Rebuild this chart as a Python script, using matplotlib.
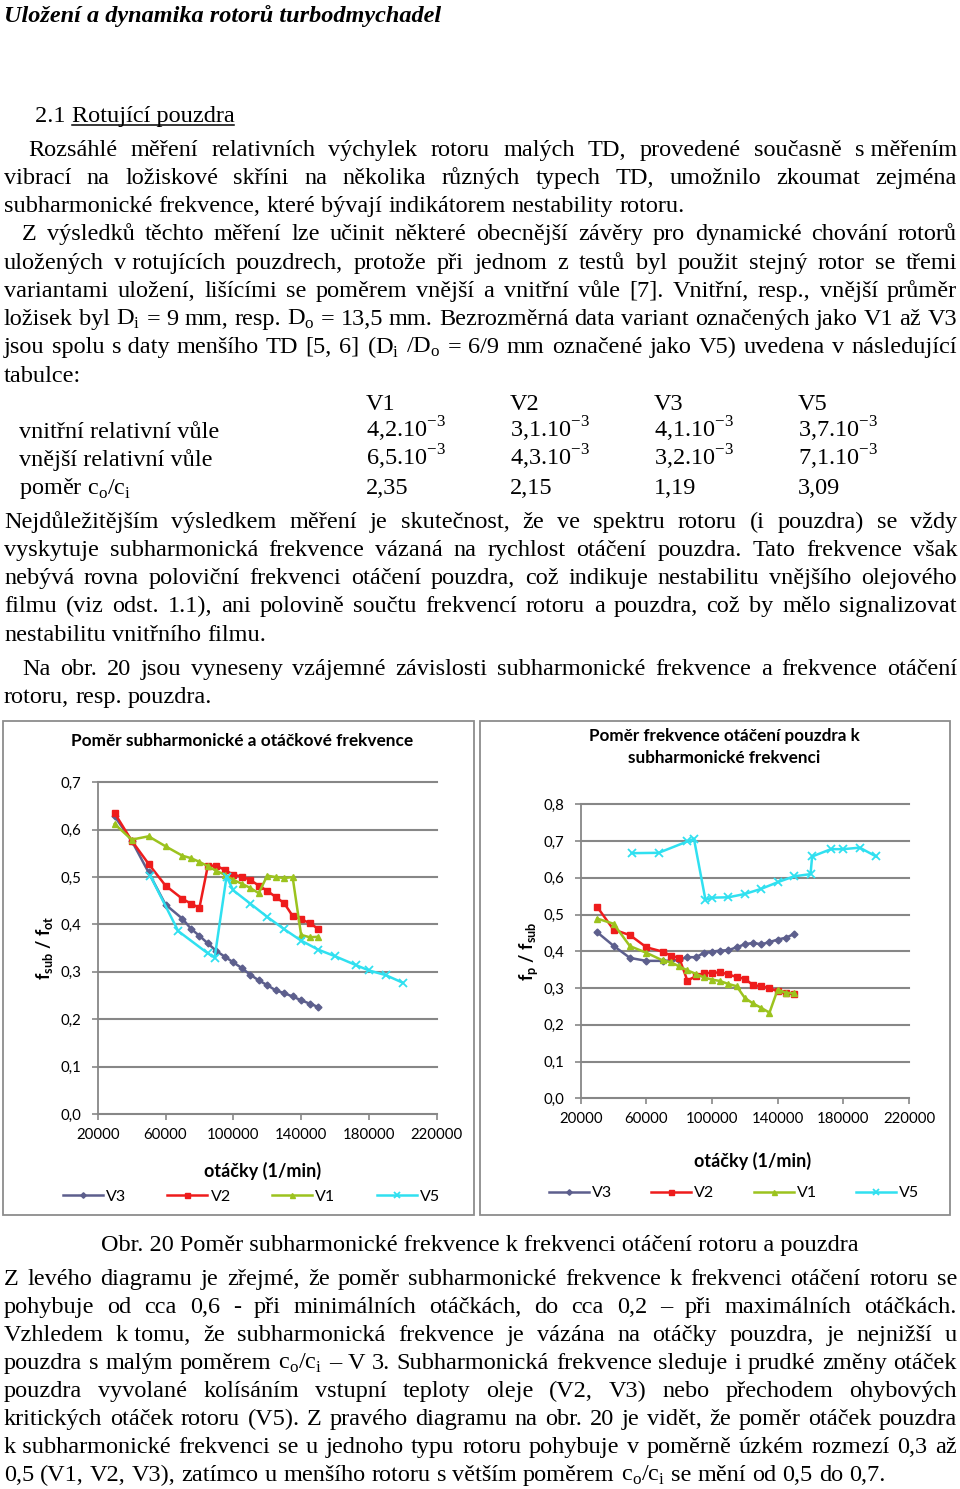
import numpy as np
import matplotlib
matplotlib.use('Agg')
import matplotlib.pyplot as plt
from matplotlib.patches import Rectangle
from matplotlib.lines import Line2D
from matplotlib.ticker import FuncFormatter

# ---- data ----
otacky = [30000, 40000, 50000, 60000, 70000, 75000, 80000, 85000, 90000, 95000, 100000,
          105000, 110000, 115000, 120000, 125000, 130000, 135000, 140000, 145000, 150000]
otacky_v5_l = [51000, 67500, 85000, 89000, 96000, 100000, 110000, 120000, 130000, 140000,
               150000, 160000, 172500, 180000, 190000, 200000]
otacky_v5_p = [51000, 67500, 85000, 89000, 96000, 100000, 110000, 120000, 130000, 140000,
               150000, 160000, 161000, 172500, 180000, 190000, 200000]

# levy diagram: f_sub / f_ot
l_v3 = [0.628, 0.577, 0.510, 0.442, 0.412, 0.391, 0.376, 0.360, 0.344, 0.332, 0.320,
        0.308, 0.294, 0.282, 0.272, 0.261, 0.255, 0.248, 0.240, 0.233, 0.226]
l_v2 = [0.635, 0.577, 0.528, 0.482, 0.454, 0.444, 0.435, 0.524, 0.524, 0.515, 0.505,
        0.501, 0.494, 0.482, 0.471, 0.458, 0.445, 0.418, 0.411, 0.403, 0.391]
l_v1 = [0.612, 0.579, 0.586, 0.565, 0.545, 0.540, 0.532, 0.523, 0.513, 0.505, 0.494,
        0.486, 0.477, 0.466, 0.503, 0.500, 0.498, 0.500, 0.378, 0.373, 0.374]
l_v5 = [0.503, 0.386, 0.339, 0.330, 0.501, 0.472, 0.444, 0.416, 0.390, 0.366, 0.347,
        0.333, 0.314, 0.303, 0.293, 0.277]

# pravy diagram: f_p / f_sub
p_v3 = [0.452, 0.415, 0.382, 0.374, 0.374, 0.375, 0.377, 0.384, 0.384, 0.395, 0.399,
        0.402, 0.403, 0.411, 0.419, 0.423, 0.419, 0.425, 0.432, 0.437, 0.447]
p_v2 = [0.521, 0.459, 0.444, 0.411, 0.399, 0.388, 0.382, 0.320, 0.332, 0.341, 0.341,
        0.343, 0.337, 0.330, 0.325, 0.308, 0.305, 0.300, 0.291, 0.286, 0.284]
p_v1 = [0.489, 0.475, 0.414, 0.396, 0.375, 0.370, 0.359, 0.348, 0.339, 0.329, 0.323,
        0.319, 0.311, 0.305, 0.273, 0.258, 0.246, 0.233, 0.296, 0.287, 0.286]
p_v5 = [0.667, 0.668, 0.699, 0.706, 0.540, 0.546, 0.547, 0.556, 0.570, 0.588, 0.604,
        0.610, 0.658, 0.678, 0.678, 0.682, 0.658]

xticks = [20000, 60000, 100000, 140000, 180000, 220000]

# table
tab_sloupce = ['V1', 'V2', 'V3', 'V5']
tab_vnitrni = ['4,2.10$^{\\mathregular{-3}}$', '3,1.10$^{\\mathregular{-3}}$',
               '4,1.10$^{\\mathregular{-3}}$', '3,7.10$^{\\mathregular{-3}}$']
tab_vnejsi = ['6,5.10$^{\\mathregular{-3}}$', '4,3.10$^{\\mathregular{-3}}$',
              '3,2.10$^{\\mathregular{-3}}$', '7,1.10$^{\\mathregular{-3}}$']
tab_pomer = ['2,35', '2,15', '1,19', '3,09']

Di = 'D$_{\\mathregular{i}}$'
Do = 'D$_{\\mathregular{o}}$'
coci = 'c$_{\\mathregular{o}}$/c$_{\\mathregular{i}}$'

W, H = 960, 1489
fig = plt.figure(figsize=(W / 100, H / 100), dpi=100)
fig.patch.set_facecolor('white')
renderer = fig.canvas.get_renderer()

SERIF = 'Liberation Serif'
SANS = 'Lato'
FS = 17.5
GRID = '#878787'


def fx(x):
    return x / W


def fy(y):
    return 1 - y / H


def radek(y, tokens, x0=4, x1=957, just=True, size=FS):
    # one line of text, placed word by word so it can be justified
    while True:
        ts = [fig.text(fx(x0), fy(y), t, fontsize=size, family=SERIF, va='baseline')
              for t in tokens]
        ws = [t.get_window_extent(renderer).width for t in ts]
        space = 0.25 * size * 100 / 72
        if not just:
            gap = space
            break
        gap = (x1 - x0 - sum(ws)) / (len(ws) - 1)
        if gap >= 0.5 * space:
            break
        for t in ts:
            t.remove()
        size -= 0.25
    x = x0
    for t, w in zip(ts, ws):
        t.set_x(fx(x))
        x += w + gap
    return ts


def slova(s):
    # '~' keeps short prepositions glued to the next word
    return [w.replace('~', ' ') for w in s.split(' ')]


# ---- header ----
fig.text(fx(4), fy(22), 'Uložení a dynamika rotorů turbodmychadel', fontsize=FS,
         family=SERIF, fontweight='bold', fontstyle='italic', va='baseline')

t1 = fig.text(fx(35), fy(122), '2.1 ', fontsize=FS, family=SERIF, va='baseline')
w1 = t1.get_window_extent(renderer).width
t2 = fig.text(fx(35 + w1), fy(122), 'Rotující pouzdra', fontsize=FS, family=SERIF, va='baseline')
bb = t2.get_window_extent(renderer)
fig.add_artist(Line2D([fx(bb.x0), fx(bb.x1)], [fy(125), fy(125)], color='black', lw=1.1))

# ---- text above the figure ----
radek(156, slova('Rozsáhlé měření relativních výchylek rotoru malých TD, provedené současně s~měřením'), x0=28)
radek(184, slova('vibrací na ložiskové skříni na několika různých typech TD, umožnilo zkoumat zejména'))
radek(212, slova('subharmonické frekvence, které bývají indikátorem nestability rotoru.'), just=False)
radek(240, slova('Z výsledků těchto měření lze učinit některé obecnější závěry pro dynamické chování rotorů'), x0=22)
radek(269, slova('uložených v~rotujících pouzdrech, protože při jednom z testů byl použit stejný rotor se třemi'))
radek(297, slova('variantami uložení, lišícími se poměrem vnější a vnitřní vůle [7]. Vnitřní, resp., vnější průměr'))
radek(325, slova('ložisek byl ' + Di + ' = 9 mm, resp. ' + Do + ' = 13,5 mm. Bezrozměrná data variant označených jako V1 až V3'))
radek(353, slova('jsou spolu s~daty menšího TD [5, 6] (' + Di + ' /' + Do + ' = 6/9 mm označené jako V5) uvedena v následující'))
radek(382, ['tabulce:'], just=False)

# table
sl_x = [366, 510, 654, 798]
for x, s in zip(sl_x, tab_sloupce):
    fig.text(fx(x), fy(410), s, fontsize=FS, family=SERIF, va='baseline')
radky = [('vnitřní relativní vůle', tab_vnitrni, 438),
         ('vnější relativní vůle', tab_vnejsi, 466),
         ('poměr ' + coci, tab_pomer, 494)]
for nazev, hodnoty, y in radky:
    fig.text(fx(19), fy(y), nazev, fontsize=FS, family=SERIF, va='baseline')
    for x, s in zip(sl_x, hodnoty):
        fig.text(fx(x), fy(y), s, fontsize=FS, family=SERIF, va='baseline')

radek(528, slova('Nejdůležitějším výsledkem měření je skutečnost, že ve spektru rotoru (i pouzdra) se vždy'))
radek(556, slova('vyskytuje subharmonická frekvence vázaná na rychlost otáčení pouzdra. Tato frekvence však'))
radek(584, slova('nebývá rovna poloviční frekvenci otáčení pouzdra, což indikuje nestabilitu vnějšího olejového'))
radek(612, slova('filmu (viz odst. 1.1), ani polovině součtu frekvencí rotoru a pouzdra, což by mělo signalizovat'))
radek(641, slova('nestabilitu vnitřního filmu.'), just=False)
radek(675, slova('Na obr. 20 jsou vyneseny vzájemné závislosti subharmonické frekvence a frekvence otáčení'), x0=22)
radek(703, slova('rotoru, resp. pouzdra.'), just=False)


# ---- the two diagrams ----
def osy(rect, ymax):
    x0, y0, x1, y1 = rect
    ax = fig.add_axes([fx(x0), fy(y1), (x1 - x0) / W, (y1 - y0) / H])
    ax.set_xlim(20000, 220000)
    ax.set_ylim(0, ymax)
    ax.set_xticks(xticks)
    ax.set_yticks(np.arange(0, ymax + 0.001, 0.1))
    ax.yaxis.set_major_formatter(FuncFormatter(lambda v, p: f'{v:.1f}'.replace('.', ',')))
    ax.xaxis.set_major_formatter(FuncFormatter(lambda v, p: f'{v:.0f}'))
    for s in ['top', 'right']:
        ax.spines[s].set_visible(False)
    for s in ['left', 'bottom']:
        ax.spines[s].set_color(GRID)
        ax.spines[s].set_linewidth(1.3)
    ax.tick_params(colors=GRID, labelcolor='black', length=4, width=1.2, labelsize=10.8)
    ax.tick_params(axis='y', pad=8)
    ax.tick_params(axis='x', pad=6)
    for lab in ax.get_xticklabels() + ax.get_yticklabels():
        lab.set_family(SANS)
    ax.yaxis.grid(True, color=GRID, lw=1.5)
    for gl in ax.get_ygridlines():
        gl.set_clip_on(False)
    ax.set_axisbelow(True)
    return ax


styly = {
    'V3': dict(color='#5d5f8d', marker='D', ms=3.5),
    'V2': dict(color='#ee1c1c', marker='s', ms=4.5),
    'V1': dict(color='#9cc31e', marker='^', ms=4.5),
    'V5': dict(color='#30e0f0', marker='x', ms=5.5, mew=1.3),
}


def kresli(ax, data):
    hs = []
    for nazev, x, y in data:
        h, = ax.plot(x, y, lw=1.8, label=nazev, clip_on=False, **styly[nazev])
        hs.append(h)
    return hs


def legenda(ax, hs, cx, cy, cs):
    ax.legend(hs, [h.get_label() for h in hs], loc='center', bbox_to_anchor=(fx(cx), fy(cy)),
              bbox_transform=fig.transFigure, ncol=4, frameon=False, handlelength=2.5,
              handletextpad=0.2, columnspacing=cs, markerscale=0.8,
              prop={'family': SANS, 'size': 11.5})


# boxes around the charts
fig.add_artist(Rectangle((fx(3), fy(1215)), 471 / W, 494 / H, transform=fig.transFigure,
                         fill=False, ec='#8c8c8c', lw=1.3))
fig.add_artist(Rectangle((fx(480), fy(1215)), 470 / W, 494 / H, transform=fig.transFigure,
                         fill=False, ec='#8c8c8c', lw=1.3))

# levy
ax1 = osy((97.7, 782.3, 436.7, 1114), 0.7)
h1 = kresli(ax1, [('V3', otacky, l_v3), ('V2', otacky, l_v2), ('V1', otacky, l_v1),
                  ('V5', otacky_v5_l, l_v5)])
fig.text(fx(242.5), fy(741), 'Poměr subharmonické a otáčkové frekvence', ha='center', va='center',
         family=SANS, fontweight='bold', fontsize=12.4)
ax1.set_ylabel('f$_{\\mathregular{sub}}$ / f$_{\\mathregular{ot}}$', family=SANS, fontweight='bold',
               fontsize=13)
ax1.yaxis.set_label_coords((55 - 97.7) / 339, 0.5)
fig.text(fx(262.7), fy(1170.7), 'otáčky (1/min)', ha='center', va='center', family=SANS,
         fontweight='bold', fontsize=13)
legenda(ax1, h1, 251.5, 1196.5, 2.6)

# pravy
ax2 = osy((580.7, 804.3, 909, 1098.3), 0.8)
h2 = kresli(ax2, [('V3', otacky, p_v3), ('V2', otacky, p_v2), ('V1', otacky, p_v1),
                  ('V5', otacky_v5_p, p_v5)])
fig.text(fx(724), fy(736), 'Poměr frekvence otáčení pouzdra k', ha='center', va='center',
         family=SANS, fontweight='bold', fontsize=12.3)
fig.text(fx(724), fy(758.3), 'subharmonické frekvenci', ha='center', va='center',
         family=SANS, fontweight='bold', fontsize=12.3)
ax2.set_ylabel('f$_{\\mathregular{p}}$ / f$_{\\mathregular{sub}}$', family=SANS, fontweight='bold',
               fontsize=13)
ax2.yaxis.set_label_coords((540 - 580.7) / 328.3, 0.5)
fig.text(fx(753), fy(1161), 'otáčky (1/min)', ha='center', va='center', family=SANS,
         fontweight='bold', fontsize=13)
legenda(ax2, h2, 734, 1193, 2.45)

# ---- caption and text below ----
fig.text(fx(480), fy(1251), 'Obr. 20 Poměr subharmonické frekvence k frekvenci otáčení rotoru a pouzdra',
         ha='center', va='baseline', fontsize=FS, family=SERIF)

radek(1285, slova('Z levého diagramu je zřejmé, že poměr subharmonické frekvence k frekvenci otáčení rotoru se'))
radek(1313, slova('pohybuje od cca 0,6 - při minimálních otáčkách, do cca 0,2 – při maximálních otáčkách.'))
radek(1341, slova('Vzhledem k~tomu, že subharmonická frekvence je vázána na otáčky pouzdra, je nejnižší u'))
radek(1369, slova('pouzdra s malým poměrem ' + coci + ' – V 3. Subharmonická frekvence sleduje i prudké změny otáček'))
radek(1397, slova('pouzdra vyvolané kolísáním vstupní teploty oleje (V2, V3) nebo přechodem ohybových'))
radek(1425, slova('kritických otáček rotoru (V5). Z pravého diagramu na obr. 20 je vidět, že poměr otáček pouzdra'))
radek(1453, slova('k~subharmonické frekvenci se u jednoho typu rotoru pohybuje v poměrně úzkém rozmezí 0,3 až'))
radek(1481, slova('0,5 (V1, V2, V3), zatímco u menšího rotoru s větším poměrem ' + coci + ' se mění od 0,5 do 0,7.'),
      just=False)

fig.savefig('out.png', dpi=100)
